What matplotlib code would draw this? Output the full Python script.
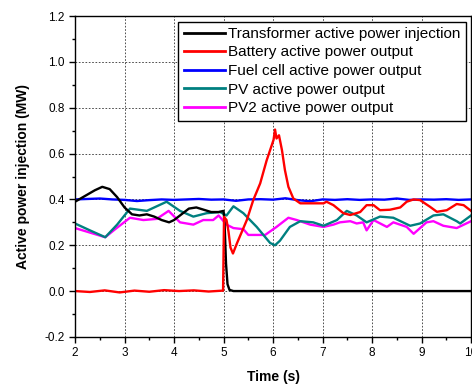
import matplotlib
matplotlib.use("Agg")
import matplotlib.pyplot as plt
from matplotlib.ticker import MultipleLocator, FormatStrFormatter

plt.rcParams["font.family"] = ["Liberation Sans", "DejaVu Sans"]
plt.rcParams["axes.unicode_minus"] = False

# Transformer active power injection
t_tr = [2.0, 2.2, 2.4, 2.55, 2.7, 2.85, 3.0, 3.15, 3.3, 3.45, 3.6, 3.75, 3.9,
        4.0, 4.15, 4.3, 4.45, 4.6, 4.75, 4.9, 5.0, 5.02, 5.05, 5.08, 5.12, 5.2, 10.0]
p_tr = [0.39, 0.415, 0.44, 0.455, 0.445, 0.41, 0.365, 0.335, 0.33, 0.335, 0.325, 0.31, 0.30,
        0.31, 0.335, 0.36, 0.365, 0.355, 0.345, 0.345, 0.35, 0.30, 0.12, 0.03, 0.005, 0.0, 0.0]

# Battery active power output
t_bat = [2.0, 2.3, 2.6, 2.9, 3.2, 3.5, 3.8, 4.1, 4.4, 4.7, 4.99, 5.01, 5.06, 5.1, 5.14, 5.19,
         5.27, 5.47, 5.60, 5.74, 5.87, 6.01, 6.04, 6.07, 6.12, 6.18, 6.24, 6.31, 6.41, 6.55,
         7.02, 7.08, 7.22, 7.42, 7.56, 7.76, 7.89, 8.03, 8.16, 8.36, 8.57, 8.70, 8.84, 8.97,
         9.17, 9.31, 9.51, 9.71, 9.85, 10.0]
p_bat = [0.0, -0.004, 0.003, -0.006, 0.002, -0.003, 0.004, 0.0, 0.003, -0.002, 0.002, 0.324, 0.31,
         0.26, 0.19, 0.164, 0.208, 0.31, 0.397, 0.47, 0.57, 0.66, 0.705, 0.666, 0.68, 0.615, 0.528,
         0.455, 0.404, 0.383, 0.383, 0.39, 0.375, 0.34, 0.332, 0.345, 0.375, 0.375, 0.353, 0.355,
         0.365, 0.39, 0.40, 0.397, 0.368, 0.346, 0.353, 0.38, 0.375, 0.35]

# Fuel cell active power output
t_fc = [2.0, 2.25, 2.5, 2.75, 3.0, 3.25, 3.5, 3.75, 4.0, 4.25, 4.5, 4.75, 5.0, 5.25, 5.5,
        5.75, 6.0, 6.25, 6.5, 6.75, 7.0, 7.25, 7.5, 7.75, 8.0, 8.25, 8.5, 8.75, 9.0, 9.25,
        9.5, 9.75, 10.0]
p_fc = [0.40, 0.402, 0.404, 0.40, 0.398, 0.393, 0.397, 0.40, 0.398, 0.40, 0.402, 0.399, 0.40,
        0.394, 0.40, 0.401, 0.399, 0.405, 0.397, 0.392, 0.40, 0.398, 0.401, 0.398, 0.40, 0.399,
        0.404, 0.398, 0.40, 0.399, 0.401, 0.398, 0.40]

# PV active power output
t_pv = [2.0, 2.3, 2.61, 2.85, 3.11, 3.45, 3.85, 4.12, 4.39, 4.66, 4.93, 5.06, 5.2, 5.4, 5.67,
        5.94, 6.04, 6.14, 6.34, 6.55, 6.81, 7.02, 7.29, 7.49, 7.69, 7.89, 8.16, 8.43, 8.77,
        8.97, 9.24, 9.44, 9.71, 9.78, 10.0]
p_pv = [0.295, 0.265, 0.235, 0.29, 0.36, 0.35, 0.39, 0.35, 0.325, 0.34, 0.345, 0.33, 0.37, 0.34,
        0.28, 0.21, 0.20, 0.22, 0.28, 0.305, 0.30, 0.285, 0.31, 0.35, 0.33, 0.30, 0.325, 0.32,
        0.285, 0.295, 0.33, 0.335, 0.305, 0.295, 0.33]

# PV2 active power output
t_pv2 = [2.0, 2.61, 2.81, 3.11, 3.38, 3.65, 3.89, 4.12, 4.39, 4.59, 4.79, 4.9, 5.06, 5.2, 5.4,
         5.5, 5.74, 5.84, 6.07, 6.31, 6.48, 6.75, 7.02, 7.22, 7.35, 7.56, 7.69, 7.82, 7.89,
         8.03, 8.3, 8.43, 8.7, 8.84, 9.1, 9.24, 9.44, 9.71, 10.0]
p_pv2 = [0.275, 0.235, 0.27, 0.32, 0.31, 0.315, 0.35, 0.30, 0.29, 0.31, 0.31, 0.33, 0.29, 0.275,
         0.27, 0.245, 0.245, 0.245, 0.28, 0.32, 0.31, 0.29, 0.28, 0.29, 0.30, 0.305, 0.295, 0.30,
         0.265, 0.31, 0.28, 0.30, 0.28, 0.25, 0.30, 0.305, 0.285, 0.275, 0.305]

labels = ["Transformer active power injection", "Battery active power output",
          "Fuel cell active power output", "PV active power output",
          "PV2 active power output"]
colors = ["#000000", "#FF0000", "#0000FF", "#008080", "#FF00FF"]

fig = plt.figure(figsize=(4.72, 3.85), dpi=100)
ax = fig.add_axes([0.159, 0.125, 0.839, 0.833])

series = [(t_tr, p_tr), (t_bat, p_bat), (t_fc, p_fc), (t_pv, p_pv), (t_pv2, p_pv2)]
# draw PV traces first so the transformer/battery lines sit on top
order = [4, 3, 2, 0, 1]
handles = [None] * 5
for i in order:
    t, p = series[i]
    (h,) = ax.plot(t, p, color=colors[i], lw=1.7, label=labels[i])
    handles[i] = h

ax.set_xlim(2, 10)
ax.set_ylim(-0.2, 1.2)
ax.xaxis.set_major_locator(MultipleLocator(1))
ax.xaxis.set_minor_locator(MultipleLocator(0.5))
ax.yaxis.set_major_locator(MultipleLocator(0.2))
ax.yaxis.set_minor_locator(MultipleLocator(0.1))
ax.yaxis.set_major_formatter(FormatStrFormatter("%.1f"))
ax.tick_params(which="major", direction="out", length=4, width=1, labelsize=8.5)
ax.tick_params(which="minor", direction="out", length=2.5, width=1)
for s in ax.spines.values():
    s.set_linewidth(1.0)

ax.grid(True, which="major", color="#333333", linestyle=(0, (2, 2)), linewidth=0.6)
ax.set_axisbelow(True)

ax.set_xlabel("Time (s)", fontsize=10, fontweight="bold", labelpad=8)
ax.set_ylabel("Active power injection (MW)", fontsize=10, fontweight="bold", labelpad=10)

leg = ax.legend(handles=handles, labels=labels, loc="upper right", fontsize=11,
                frameon=True, fancybox=False, edgecolor="black", framealpha=1,
                handlelength=2.7, handletextpad=0.2, labelspacing=0.3,
                borderpad=0.35, borderaxespad=0.35)
leg.get_frame().set_linewidth(1.0)
for line in leg.get_lines():
    line.set_linewidth(2.0)

fig.savefig("out.png", dpi=100)
